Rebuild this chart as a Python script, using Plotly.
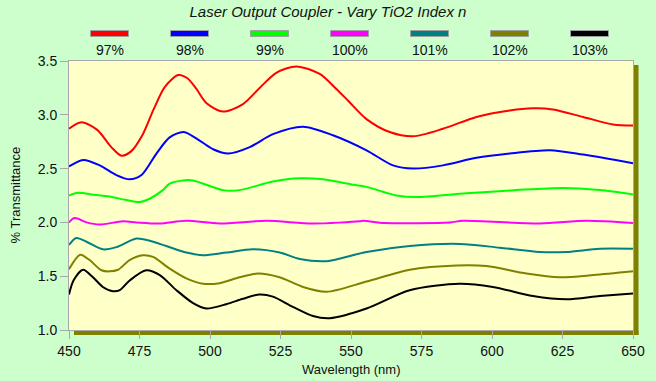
import plotly.graph_objects as go

TITLE = "Laser Output Coupler - Vary TiO2 Index n"
NAMES = ["97%", "98%", "99%", "100%", "101%", "102%", "103%"]
COLORS = ["#FF0000", "#0000FF", "#00FF00", "#FF00FF", "#008080", "#808000", "#000000"]

x97 = [450, 454.4, 460, 465, 468.6, 472, 476.2, 480, 484, 488.7, 492, 495.2, 498.7, 504.6, 511.7, 517.6, 523.5, 530.6, 538.9, 544.8, 549, 555.5, 563.7, 572, 582.6, 594.5, 606.3, 614.5, 621.6, 632.3, 642.9, 650]
y97 = [2.87, 2.93, 2.86, 2.70, 2.62, 2.66, 2.82, 3.05, 3.26, 3.37, 3.34, 3.24, 3.11, 3.03, 3.10, 3.25, 3.39, 3.45, 3.38, 3.24, 3.13, 2.96, 2.84, 2.80, 2.87, 2.98, 3.04, 3.06, 3.05, 2.98, 2.91, 2.90]

x98 = [450, 455, 460.9, 466.8, 471.5, 475.7, 481, 485.7, 490.7, 496.3, 501.1, 506.4, 514.1, 522.3, 533, 543.6, 555.5, 564.9, 572, 582.6, 594.5, 606.3, 620.5, 632.3, 650]
y98 = [2.52, 2.58, 2.53, 2.44, 2.40, 2.44, 2.64, 2.79, 2.84, 2.76, 2.68, 2.64, 2.70, 2.82, 2.89, 2.81, 2.67, 2.53, 2.50, 2.53, 2.60, 2.64, 2.67, 2.63, 2.55]

x99 = [450, 453.2, 458, 464.4, 470, 475.1, 478.6, 483.3, 485.7, 490.4, 494, 504.6, 510.5, 522.3, 531.8, 540.1, 550.7, 555.5, 566.1, 573.2, 590.9, 608.6, 625.2, 638.2, 650]
y99 = [2.25, 2.275, 2.26, 2.24, 2.21, 2.19, 2.22, 2.30, 2.36, 2.39, 2.39, 2.30, 2.30, 2.38, 2.41, 2.40, 2.35, 2.33, 2.25, 2.235, 2.27, 2.30, 2.32, 2.30, 2.26]

x100 = [450, 452, 456.2, 460.9, 469.1, 474, 482, 491.6, 503.4, 520, 536.5, 553.1, 554.3, 562, 585, 589.7, 616.9, 633.5, 650]
y100 = [2.00, 2.04, 2.00, 1.98, 2.01, 2.00, 1.99, 2.015, 1.99, 2.015, 1.99, 2.01, 2.015, 1.995, 2.0, 2.015, 1.99, 2.015, 1.995]

x101 = [450, 452.6, 456.2, 462, 466.8, 473.9, 478.6, 484.5, 491.6, 497.5, 505.8, 515.2, 524.7, 531.8, 541.3, 555.5, 570.8, 588.5, 602.7, 616.9, 626.4, 638.2, 650]
y101 = [1.79, 1.855, 1.82, 1.75, 1.77, 1.85, 1.83, 1.78, 1.72, 1.695, 1.72, 1.75, 1.72, 1.66, 1.64, 1.725, 1.78, 1.80, 1.765, 1.725, 1.725, 1.755, 1.755]

x102 = [450, 454, 457.3, 461.5, 464.4, 467.4, 471.5, 476.2, 479.8, 485.7, 491.6, 497.5, 503.4, 510.5, 517, 524.7, 533, 541.3, 555.5, 570.8, 587.4, 598, 612.2, 624, 636, 650]
y102 = [1.565, 1.70, 1.65, 1.555, 1.545, 1.56, 1.65, 1.695, 1.68, 1.57, 1.48, 1.43, 1.435, 1.49, 1.525, 1.49, 1.40, 1.355, 1.45, 1.56, 1.60, 1.595, 1.525, 1.49, 1.51, 1.545]

x103 = [450, 451.6, 455, 458.5, 462, 465.6, 468, 471.5, 477.4, 482.2, 488.1, 494, 498.7, 505.8, 511.7, 517.6, 522.3, 529.4, 536.5, 542.5, 555.5, 570.8, 588.5, 600.3, 614.5, 626.4, 638.2, 650]
y103 = [1.33, 1.46, 1.56, 1.49, 1.40, 1.36, 1.37, 1.46, 1.555, 1.51, 1.37, 1.25, 1.20, 1.24, 1.29, 1.33, 1.31, 1.215, 1.13, 1.11, 1.20, 1.37, 1.43, 1.40, 1.315, 1.285, 1.315, 1.34]

XS = [x97, x98, x99, x100, x101, x102, x103]
YS = [y97, y98, y99, y100, y101, y102, y103]

X_TICKS = [450, 475, 500, 525, 550, 575, 600, 625, 650]
Y_TICKS = [1.0, 1.5, 2.0, 2.5, 3.0, 3.5]

W, H = 656, 381
ML, MR, MT, MB = 69, 23, 61, 51
PW, PH = W - ML - MR, H - MT - MB
FONT = "Liberation Sans, Arial, sans-serif"
TXT = "#111111"

fig = go.Figure()
for name, color, xs, ys in zip(NAMES, COLORS, XS, YS):
    fig.add_trace(go.Scatter(x=xs, y=ys, mode="lines", name=name,
                             line=dict(color=color, width=2, shape="spline", smoothing=0.8),
                             showlegend=False, hoverinfo="skip"))

shapes = []
# drop shadow of plot area
shapes.append(dict(type="rect", xref="paper", yref="paper", layer="below",
                   x0=1 + 0.5 / PW, x1=1 + 5.5 / PW, y0=-5 / PH, y1=1 - 4 / PH,
                   fillcolor="#808000", line=dict(width=0)))
shapes.append(dict(type="rect", xref="paper", yref="paper", layer="below",
                   x0=5 / PW, x1=1 + 5.5 / PW, y0=-5 / PH, y1=-0.5 / PH,
                   fillcolor="#808000", line=dict(width=0)))

annotations = []
for i, (name, color) in enumerate(zip(NAMES, COLORS)):
    cx = 109.5 + 80 * i
    x0 = (cx - 19 - ML) / PW
    x1 = (cx + 19 - ML) / PW
    y0 = (MT + PH - 36.5) / PH
    y1 = (MT + PH - 30.5) / PH
    shapes.append(dict(type="rect", xref="paper", yref="paper", x0=x0, x1=x1, y0=y0, y1=y1,
                       fillcolor=color, line=dict(color="#A0A0A0", width=1)))
    annotations.append(dict(text=name, xref="paper", yref="paper", x=(cx - ML) / PW,
                            y=(MT + PH - 50) / PH, xanchor="center", yanchor="middle",
                            showarrow=False, font=dict(size=14, color=TXT, family=FONT)))

# axis titles as annotations for exact placement
annotations.append(dict(text="Wavelength (nm)", xref="paper", yref="paper", x=0.5,
                        y=-(369 - MT - PH) / PH, xanchor="center", yanchor="middle",
                        showarrow=False, font=dict(size=13, color=TXT, family=FONT)))
annotations.append(dict(text="% Transmittance", xref="paper", yref="paper", x=-(ML - 15) / PW,
                        y=0.5, xanchor="center", yanchor="middle", textangle=-90,
                        showarrow=False, font=dict(size=13, color=TXT, family=FONT)))

fig.update_layout(
    width=W, height=H,
    margin=dict(l=ML, r=MR, t=MT, b=MB, autoexpand=False),
    paper_bgcolor="#CCFFCC", plot_bgcolor="#FFFFC8",
    font=dict(family=FONT, size=14, color=TXT),
    hovermode=False,
    title=dict(text=TITLE, x=0.5, xanchor="center", y=1 - 12 / H, yanchor="middle",
               font=dict(size=15, color=TXT, family=FONT, style="italic")),
    shapes=shapes, annotations=annotations,
    xaxis=dict(range=[450, 650], tickvals=X_TICKS, showgrid=False, zeroline=False,
               showline=True, linecolor="#A8A8A8", linewidth=1, mirror=True, automargin=False,
               ticks="outside", ticklen=8, tickcolor="#A8A8A8", tickfont=dict(size=14)),
    yaxis=dict(range=[1.0, 3.5], tickvals=Y_TICKS, tickformat=".1f", showgrid=False, zeroline=False,
               showline=True, linecolor="#A8A8A8", linewidth=1, mirror=True, automargin=False,
               ticks="outside", ticklen=8, tickcolor="#A8A8A8", tickfont=dict(size=14)),
)

fig.write_html("out.html", config={"displayModeBar": False},
               post_script="document.body.style.margin='0';document.body.style.overflow='hidden';document.body.style.background='#CCFFCC';")
